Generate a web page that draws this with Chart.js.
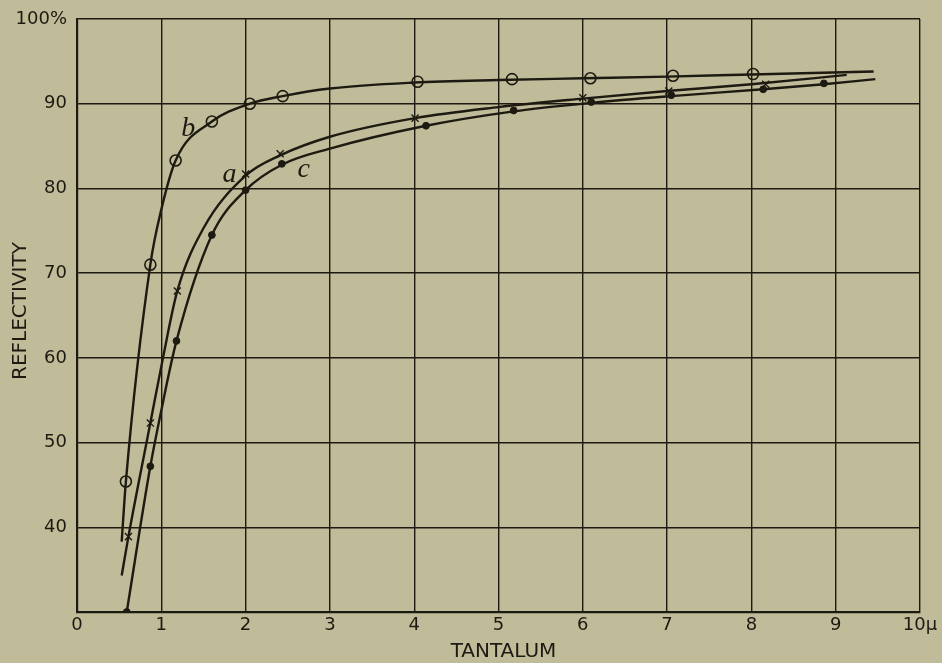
<!DOCTYPE html>
<html>
<head>
<meta charset="utf-8">
<script src="https://cdn.jsdelivr.net/npm/chart.js@4/dist/chart.umd.min.js"></script>
<style>
  html, body { margin: 0; padding: 0; background: #c0bb98; }
  #wrap { width: 942px; height: 663px; }
</style>
</head>
<body>
<div id="wrap"><canvas id="chart" width="942" height="663"></canvas></div>
<script>
// Wavelength (microns) and reflectivity (%) of tantalum, three samples a, b, c.

// Measured points, curve b (open circles)
const bX = [0.58, 0.87, 1.17, 1.60, 2.05, 2.44, 4.04, 5.16, 6.09, 7.07, 8.02];
const bY = [45.4, 71.0, 83.3, 87.9, 90.0, 90.9, 92.6, 92.9, 93.0, 93.3, 93.5];
// Measured points, curve a (crosses)
const aX = [0.61, 0.87, 1.19, 2.00, 2.41, 4.01, 6.00, 7.02, 8.17];
const aY = [38.9, 52.3, 67.9, 81.7, 84.1, 88.3, 90.7, 91.5, 92.3];
// Measured points, curve c (dots)
const cX = [0.59, 0.87, 1.18, 1.60, 2.00, 2.43, 4.14, 5.18, 6.10, 7.05, 8.14, 8.86];
const cY = [30.0, 47.2, 62.0, 74.5, 79.8, 82.9, 87.4, 89.2, 90.2, 91.0, 91.7, 92.4];

// Smoothed curves drawn through the measurements
const bCurveX = [0.53, 0.58, 0.87, 1.00, 1.17, 1.60, 2.05, 2.44, 3.00, 4.00, 5.00, 6.00, 7.00, 8.00, 9.45];
const bCurveY = [38.3, 45.4, 71.0, 77.5, 83.3, 87.9, 90.0, 90.9, 91.8, 92.5, 92.8, 93.0, 93.2, 93.45, 93.8];
const aCurveX = [0.53, 0.61, 0.87, 1.02, 1.19, 1.50, 2.00, 2.41, 3.00, 4.01, 5.00, 6.00, 7.00, 8.00, 9.13];
const aCurveY = [34.3, 38.9, 52.3, 60.0, 67.9, 75.3, 81.5, 83.9, 86.1, 88.3, 89.6, 90.6, 91.5, 92.3, 93.4];
const cCurveX = [0.59, 0.87, 1.00, 1.18, 1.60, 2.00, 2.43, 3.00, 4.14, 5.18, 6.10, 7.05, 8.14, 8.86, 9.47];
const cCurveY = [30.0, 47.2, 53.8, 62.0, 74.5, 79.8, 82.8, 84.7, 87.4, 89.1, 90.1, 90.9, 91.7, 92.3, 92.9];

// Axis ticks
const xTicks = [0, 1, 2, 3, 4, 5, 6, 7, 8, 9, 10];
const yTicks = [30, 40, 50, 60, 70, 80, 90, 100];

// Curve letters, placed in data units
const curveLabels = [
  { text: 'b', x: 1.32, y: 87.1 },
  { text: 'a', x: 1.81, y: 81.6 },
  { text: 'c', x: 2.69, y: 82.2 }
];

const INK = '#1d1a12';
const BG = '#c0bb98';

const toPts = (xs, ys) => xs.map((x, i) => ({ x: x, y: ys[i] }));

const curve = (xs, ys) => ({
  data: toPts(xs, ys),
  showLine: true,
  borderColor: INK,
  borderWidth: 2.4,
  pointRadius: 0,
  cubicInterpolationMode: 'monotone',
  fill: false,
  order: 2
});

const marks = (xs, ys, style, radius, fillCol, width) => ({
  data: toPts(xs, ys),
  showLine: false,
  pointStyle: style,
  pointRadius: radius,
  pointBorderColor: INK,
  pointBackgroundColor: fillCol,
  pointBorderWidth: width,
  order: 1
});

const letterPlugin = {
  id: 'letters',
  afterDatasetsDraw(chart) {
    const { ctx, scales } = chart;
    ctx.save();
    ctx.fillStyle = INK;
    ctx.font = 'italic 28px "Liberation Serif", serif';
    ctx.textAlign = 'center';
    ctx.textBaseline = 'middle';
    curveLabels.forEach(l => {
      ctx.fillText(l.text, scales.x.getPixelForValue(l.x), scales.y.getPixelForValue(l.y));
    });
    ctx.restore();
  }
};

const titlePlugin = {
  id: 'axisTitles',
  afterDraw(chart) {
    const { ctx, chartArea } = chart;
    ctx.save();
    ctx.fillStyle = INK;
    ctx.font = '20px "DejaVu Sans", sans-serif';
    ctx.textAlign = 'center';
    ctx.textBaseline = 'middle';
    ctx.fillText('TANTALUM', (chartArea.left + chartArea.right) / 2 + 5, 652);
    ctx.translate(21, 311);
    ctx.rotate(-Math.PI / 2);
    ctx.fillText('REFLECTIVITY', 0, 0);
    ctx.restore();
  }
};

const bgPlugin = {
  id: 'paper',
  beforeDraw(chart) {
    const { ctx, width, height } = chart;
    ctx.save();
    ctx.fillStyle = BG;
    ctx.fillRect(0, 0, width, height);
    ctx.restore();
  }
};

new Chart(document.getElementById('chart'), {
  type: 'scatter',
  data: {
    datasets: [
      curve(bCurveX, bCurveY),
      curve(aCurveX, aCurveY),
      curve(cCurveX, cCurveY),
      marks(bX, bY, 'circle', 5.5, 'rgba(0,0,0,0)', 1.6),
      marks(aX, aY, 'crossRot', 5, INK, 1.4),
      marks(cX, cY, 'circle', 3.4, INK, 1)
    ]
  },
  options: {
    responsive: false,
    animation: false,
    events: [],
    layout: { padding: { left: 0, top: 19, right: 22, bottom: 0 } },
    plugins: { legend: { display: false }, tooltip: { enabled: false } },
    scales: {
      x: {
        type: 'linear',
        min: xTicks[0],
        max: xTicks[xTicks.length - 1],
        afterBuildTicks(scale) { scale.ticks = xTicks.map(v => ({ value: v })); },
        afterFit(scale) { scale.height = 51; },
        grid: { color: INK, lineWidth: 1.4, drawTicks: false },
        border: { color: INK, width: 2.2 },
        ticks: {
          color: INK,
          padding: 3,
          font: { family: '"DejaVu Sans", sans-serif', size: 18 },
          callback: v => (v === 10 ? '10\u03bc' : String(v))
        }
      },
      y: {
        type: 'linear',
        min: yTicks[0],
        max: yTicks[yTicks.length - 1],
        afterBuildTicks(scale) { scale.ticks = yTicks.map(v => ({ value: v })); },
        afterFit(scale) { scale.width = 77; },
        grid: { color: INK, lineWidth: 1.4, drawTicks: false },
        border: { color: INK, width: 2.2 },
        ticks: {
          color: INK,
          padding: 10,
          font: { family: '"DejaVu Sans", sans-serif', size: 18, lineHeight: 1 },
          callback: v => (v === 30 ? '' : v === 100 ? '100%' : String(v))
        }
      }
    }
  },
  plugins: [bgPlugin, letterPlugin, titlePlugin]
});
</script>
</body>
</html>
